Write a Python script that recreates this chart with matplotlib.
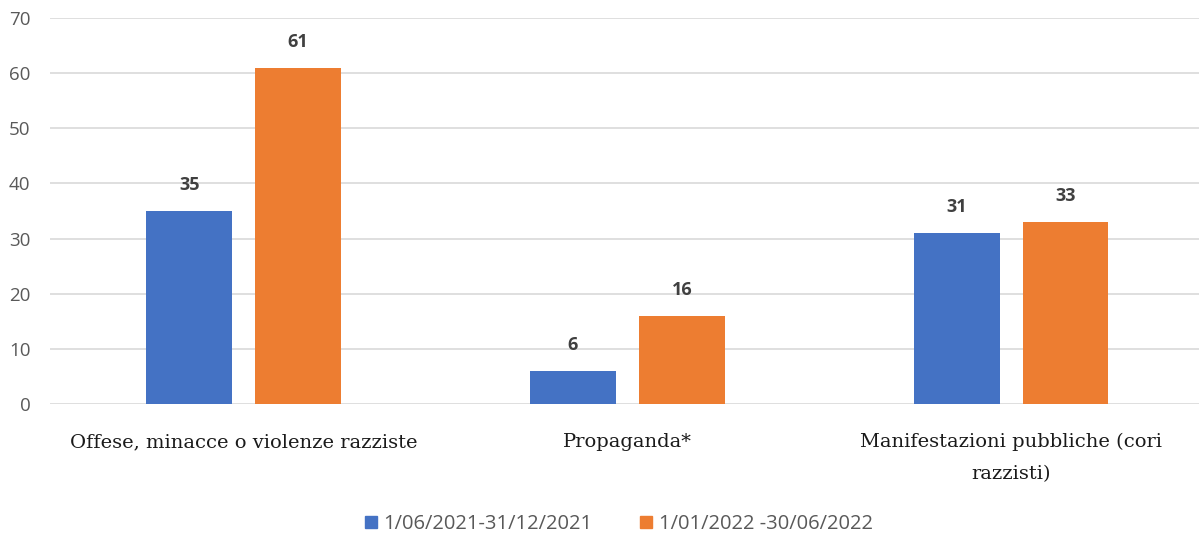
import numpy as np
import matplotlib.pyplot as plt
from matplotlib.patches import Patch

categories = ['Offese, minacce o violenze razziste', 'Propaganda*',
              'Manifestazioni pubbliche (cori\nrazzisti)']
series_names = ['1/06/2021-31/12/2021', '1/01/2022 -30/06/2022']
values_2021 = [35, 6, 31]
values_2022 = [61, 16, 33]
colors = ['#4472C4', '#ED7D31']

fig = plt.figure(figsize=(11.99, 5.42), dpi=100)
ax = fig.add_axes([0.0417, 0.2546, 0.9583, 0.7122])

x = np.arange(len(categories))
w = 0.224
off = 0.142
b1 = ax.bar(x - off, values_2021, w, color=colors[0], zorder=3)
b2 = ax.bar(x + off, values_2022, w, color=colors[1], zorder=3)

for bars in (b1, b2):
    for r in bars:
        ax.annotate(f'{int(r.get_height())}',
                    (r.get_x() + r.get_width() / 2, r.get_height()),
                    xytext=(0, 12), textcoords='offset points',
                    ha='center', va='bottom', fontsize=13,
                    fontweight='bold', color='#404040',
                    family='Open Sans')

ax.set_ylim(0, 70)
ax.set_yticks(range(0, 71, 10))
ax.set_xlim(-0.505, 2.49)
ax.set_xticks(x)
ax.set_xticklabels(categories, family='DejaVu Serif', fontsize=14,
                   color='#1a1a1a', linespacing=2.0)
ax.tick_params(axis='x', length=0, pad=21)
ax.tick_params(axis='y', length=0, pad=14, labelsize=13.5,
               labelcolor='#595959')
for lbl in ax.get_yticklabels():
    lbl.set_family('Open Sans')
    lbl.set_horizontalalignment('right')

ax.grid(axis='y', color='#D9D9D9', linewidth=1.2, zorder=0)
for s in ax.spines.values():
    s.set_visible(False)

handles = [Patch(color=c) for c in colors]
leg = fig.legend(handles, series_names, loc='center', ncol=2,
                 bbox_to_anchor=(0.516, 0.033), frameon=False,
                 handlelength=0.6, handleheight=0.6, handletextpad=0.3,
                 columnspacing=2.4,
                 prop={'family': 'Open Sans', 'size': 14.5})
for t in leg.get_texts():
    t.set_color('#595959')

fig.savefig('out.png', dpi=100)
